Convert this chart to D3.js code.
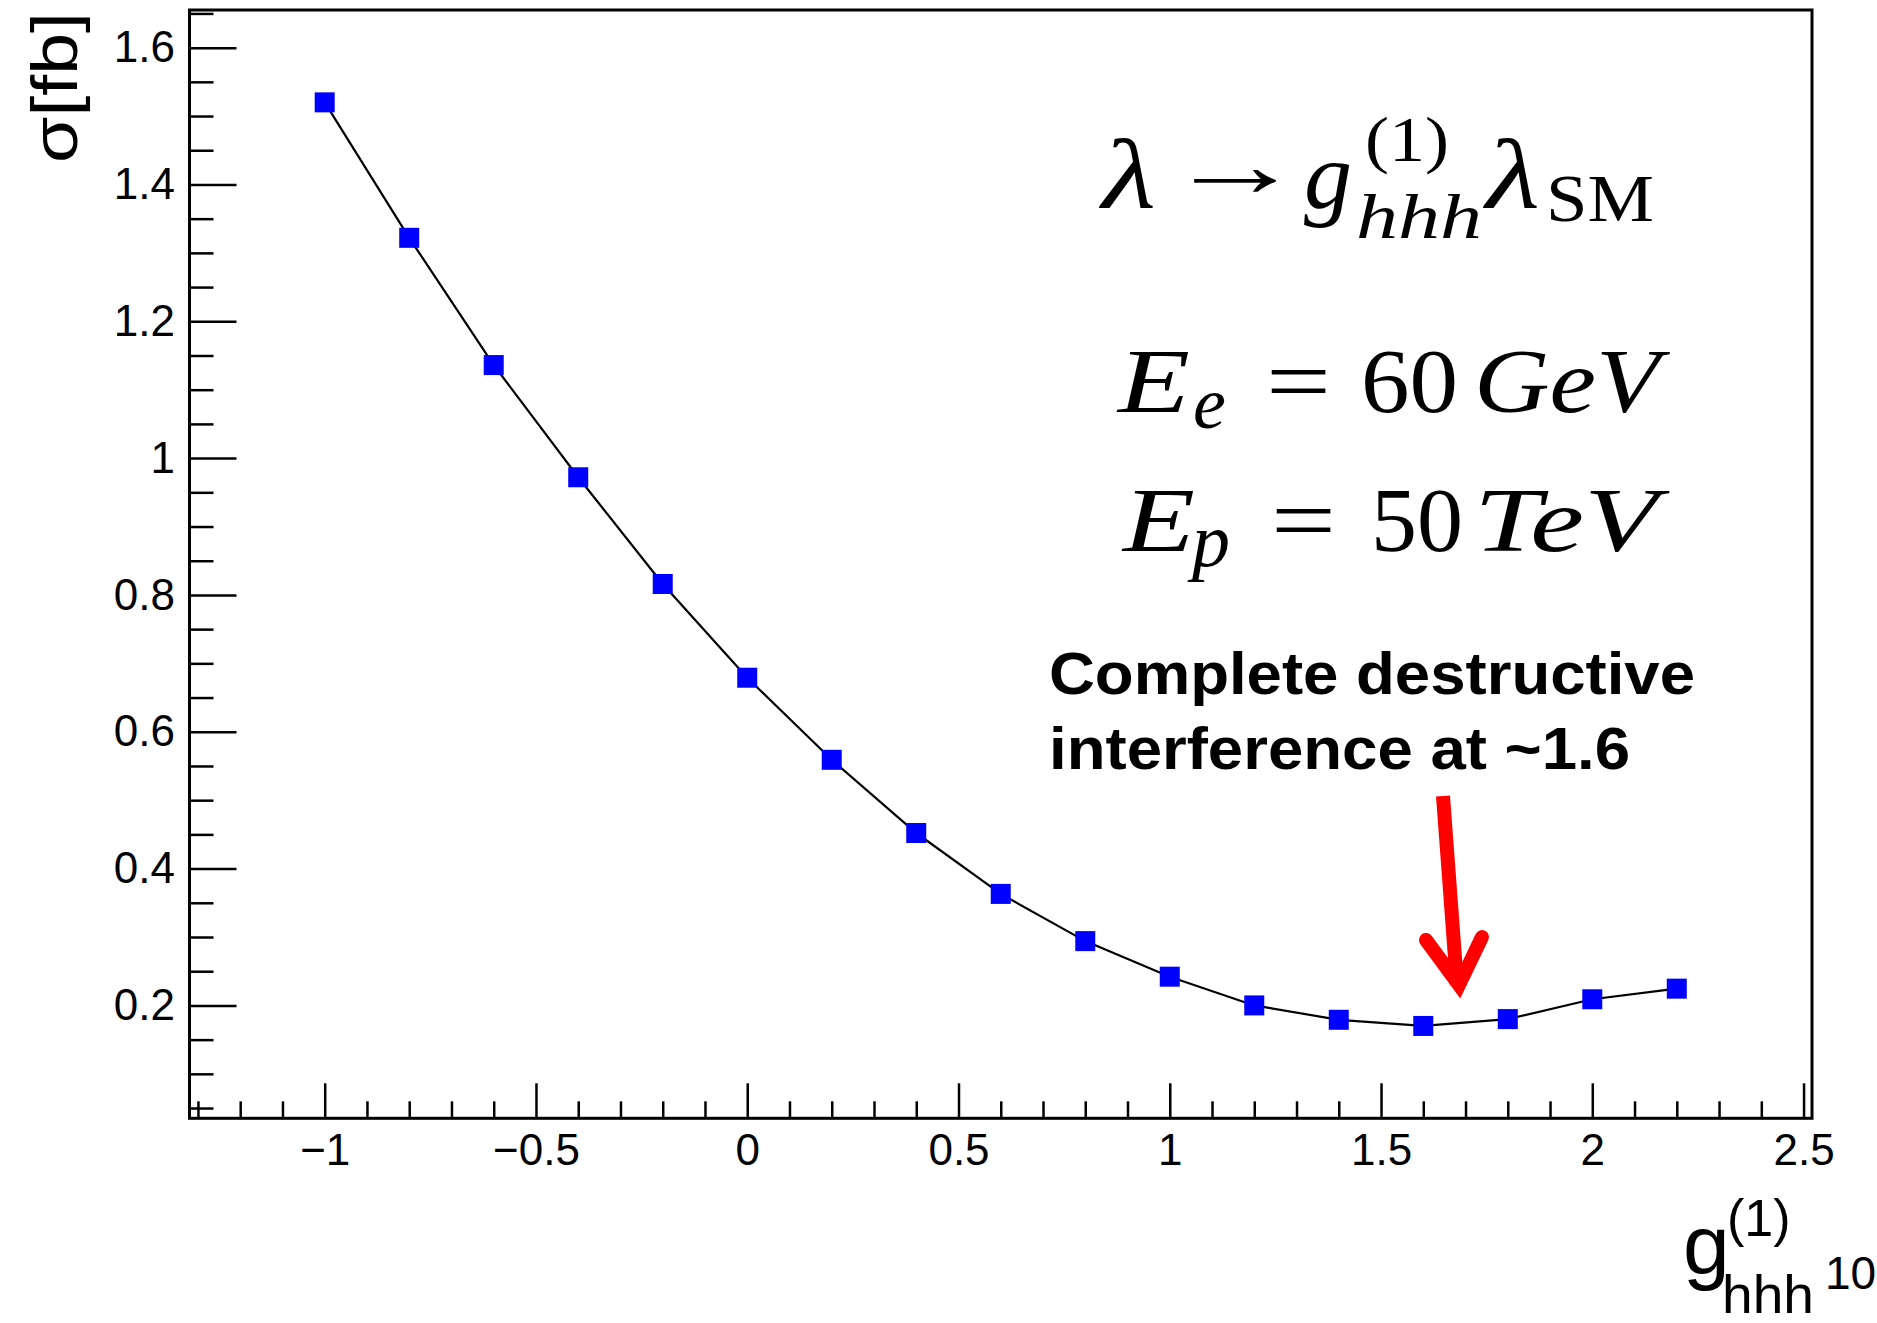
<!DOCTYPE html>
<html>
<head>
<meta charset="utf-8">
<script src="https://cdn.jsdelivr.net/npm/d3@7"></script>
<style>
  html, body { margin: 0; padding: 0; background: #ffffff; }
  svg { display: block; }
</style>
</head>
<body>
<svg id="chart" width="1877" height="1323"></svg>
<script>
// Cross section vs trilinear Higgs coupling scale factor
const couplings = [-1.0, -0.8, -0.6, -0.4, -0.2, 0.0, 0.2, 0.4, 0.6, 0.8, 1.0, 1.2, 1.4, 1.6, 1.8, 2.0, 2.2];
const sigmaFb   = [1.520, 1.322, 1.136, 0.972, 0.816, 0.679, 0.559, 0.452, 0.363, 0.294, 0.242, 0.200, 0.179, 0.170, 0.180, 0.209, 0.2245];

const xTicks = [-1, -0.5, 0, 0.5, 1, 1.5, 2, 2.5];
const xTickLabels = ["\u22121", "\u22120.5", "0", "0.5", "1", "1.5", "2", "2.5"];
const yTicks = [0.2, 0.4, 0.6, 0.8, 1.0, 1.2, 1.4, 1.6];
const yTickLabels = ["0.2", "0.4", "0.6", "0.8", "1", "1.2", "1.4", "1.6"];

const frame = { left: 189.5, right: 1812, top: 10, bottom: 1118.3 };

const svg = d3.select("#chart");

const x = d3.scaleLinear().domain([-1.32, 2.52]).range([frame.left, frame.right]);
const y = d3.scaleLinear().domain([0.035, 1.655]).range([frame.bottom, frame.top]);

const xMinor = d3.range(-1.3, 2.5001, 0.1).filter(v => Math.abs(v * 2 - Math.round(v * 2)) > 1e-6);
const yMinor = d3.range(0.05, 1.6501, 0.05).filter(v => Math.abs(v * 5 - Math.round(v * 5)) > 1e-6);

const tickFont = "'Liberation Sans', Arial, Helvetica, sans-serif";

function styleAxis(g) {
  g.select(".domain").remove();
  g.selectAll(".tick line").attr("stroke", "#000").attr("stroke-width", 2.5);
  g.selectAll(".tick text").attr("fill", "#000").attr("font-family", tickFont).attr("font-size", 44);
}

// x axis: minor and major ticks pointing into the frame
svg.append("g")
  .attr("transform", `translate(0,${frame.bottom})`)
  .call(d3.axisBottom(x).tickValues(xMinor).tickSize(-17).tickFormat(""))
  .call(styleAxis);
svg.append("g")
  .attr("transform", `translate(0,${frame.bottom})`)
  .call(d3.axisBottom(x).tickValues(xTicks).tickSize(-35).tickPadding(15.5)
        .tickFormat((d, i) => xTickLabels[i]))
  .call(styleAxis);

// y axis
svg.append("g")
  .attr("transform", `translate(${frame.left},0)`)
  .call(d3.axisLeft(y).tickValues(yMinor).tickSize(-24).tickFormat(""))
  .call(styleAxis);
svg.append("g")
  .attr("transform", `translate(${frame.left},0)`)
  .call(d3.axisLeft(y).tickValues(yTicks).tickSize(-47).tickPadding(14.5)
        .tickFormat((d, i) => yTickLabels[i]))
  .call(styleAxis);

// frame
svg.append("rect")
  .attr("x", frame.left).attr("y", frame.top)
  .attr("width", frame.right - frame.left).attr("height", frame.bottom - frame.top)
  .attr("fill", "none").attr("stroke", "#000").attr("stroke-width", 3);

// curve through the points
const pts = couplings.map((c, i) => [c, sigmaFb[i]]);
svg.append("path")
  .datum(pts)
  .attr("fill", "none").attr("stroke", "#000").attr("stroke-width", 2.2)
  .attr("d", d3.line().x(d => x(d[0])).y(d => y(d[1])));

// square markers
const ms = 20;
svg.append("g").selectAll("rect")
  .data(pts).join("rect")
  .attr("x", d => x(d[0]) - ms / 2).attr("y", d => y(d[1]) - ms / 2)
  .attr("width", ms).attr("height", ms)
  .attr("fill", "#0000ff");

// y axis title
svg.append("text")
  .attr("transform", "translate(77,12) rotate(-90)")
  .attr("text-anchor", "end")
  .attr("font-family", tickFont).attr("font-size", 64)
  .attr("textLength", 151).attr("lengthAdjust", "spacingAndGlyphs")
  .text("\u03c3[fb]");

// x axis title
const xt = svg.append("g").attr("font-family", tickFont).attr("fill", "#000");
xt.append("text").attr("x", 1683).attr("y", 1274).attr("font-size", 84).text("g");
xt.append("text").attr("x", 1727).attr("y", 1236).attr("font-size", 52).text("(1)");
xt.append("text").attr("x", 1722).attr("y", 1313).attr("font-size", 53)
  .attr("textLength", 92).attr("lengthAdjust", "spacingAndGlyphs").text("hhh");
xt.append("text").attr("x", 1825).attr("y", 1289).attr("font-size", 46).text("10");

// formulas: each piece placed at its left edge and baseline, optionally
// stretched horizontally to a given advance width
const serif = "'Liberation Serif', 'Times New Roman', serif";
const fm = svg.append("g").attr("font-family", serif).attr("fill", "#000");
function put(txt, left, base, size, italic, width) {
  const t = fm.append("text").attr("x", 0).attr("y", 0).attr("font-size", size)
    .attr("font-style", italic ? "italic" : "normal").text(txt);
  let sx = 1;
  if (width) {
    const w = t.node().getComputedTextLength();
    if (w > 0) sx = width / w;
  }
  t.attr("transform", `translate(${left},${base}) scale(${sx},1)`);
  return t;
}
// λ → g(1)hhh λSM
put("\u03bb", 1102, 208, 100, true, 54);
put("\u2192", 1166, 196, 92, false, 138);
put("g", 1304, 208, 96, true);
put("(1)", 1365, 161, 64, false, 84);
put("hhh", 1356, 238, 64, true, 126);
put("\u03bb", 1486, 208, 100, true, 54);
put("SM", 1546, 221, 68, false, 108);
// Ee = 60 GeV
put("E", 1118, 412, 92, true, 72);
put("e", 1193, 428, 74, true);
put("=", 1266, 412, 92, false, 65);
put("60", 1361, 412, 92, false, 97);
put("GeV", 1474, 412, 92, true, 186);
// Ep = 50 TeV
put("E", 1123, 551, 92, true, 72);
put("p", 1192, 566, 76, true);
put("=", 1271, 551, 92, false, 65);
put("50", 1371, 551, 92, false, 92);
put("TeV", 1474, 551, 92, true, 184);

// annotation
const an = svg.append("g").attr("font-family", tickFont).attr("font-weight", "bold")
  .attr("font-size", 59).attr("fill", "#000");
an.append("text").attr("x", 1049).attr("y", 694)
  .attr("textLength", 646).attr("lengthAdjust", "spacingAndGlyphs").text("Complete destructive");
an.append("text").attr("x", 1049).attr("y", 769)
  .attr("textLength", 581).attr("lengthAdjust", "spacingAndGlyphs").text("interference at ~1.6");

// red arrow
const ar = svg.append("g").attr("stroke", "#ff0000").attr("fill", "none")
  .attr("stroke-width", 14);
ar.append("line").attr("x1", 1443).attr("y1", 796).attr("x2", 1457).attr("y2", 985);
ar.append("polyline")
  .attr("points", "1426,940 1459,985 1482,937")
  .attr("stroke-linecap", "round").attr("stroke-linejoin", "miter").attr("stroke-miterlimit", 10);
</script>
</body>
</html>
